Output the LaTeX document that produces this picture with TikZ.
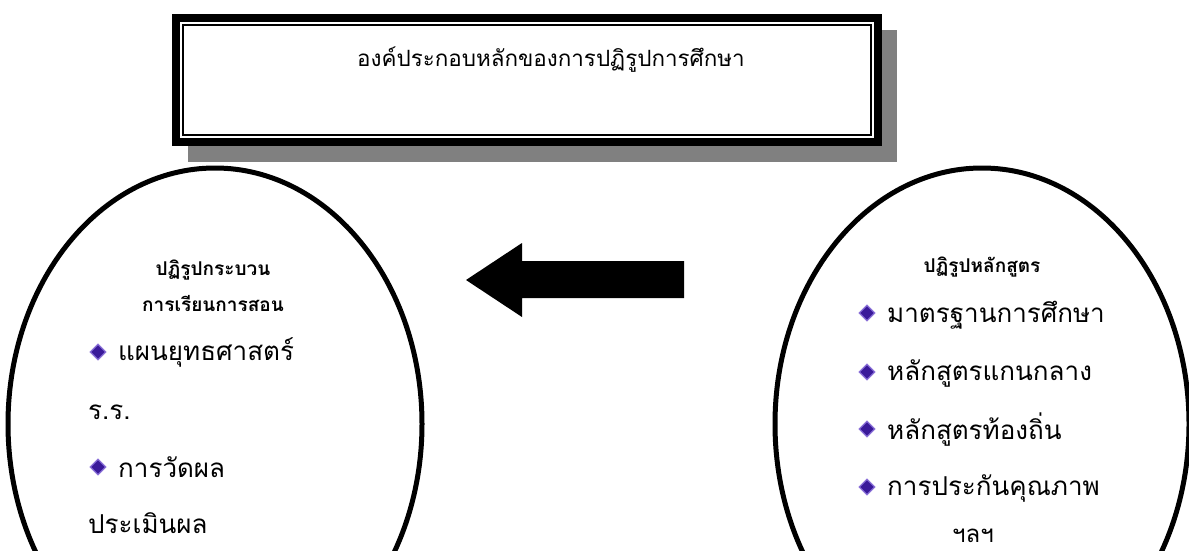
\documentclass[tikz,border=0pt]{standalone}
\usepackage{fontspec}
\newfontfamily\thai[Script=Thai]{Loma}
\usetikzlibrary{shapes.geometric}
\definecolor{bulletfill}{HTML}{3A1A9A}
\definecolor{bulletedge}{HTML}{8A70D8}
\definecolor{shadowgray}{HTML}{808080}
\tikzset{
  oval/.style={ellipse, draw=black, line width=5pt, minimum width=414pt, minimum height=512pt, inner sep=0pt},
  bigtxt/.style={font=\thai\fontsize{26}{26}\selectfont, anchor=west, inner sep=0pt},
  headtxt/.style={font=\thai\bfseries\fontsize{19}{19}\selectfont, inner sep=0pt},
  bul/.style={diamond, fill=bulletfill, draw=bulletedge, line width=1.2pt, minimum width=16pt, minimum height=16pt, inner sep=0pt},
}
\begin{document}
\begin{tikzpicture}[x=1pt,y=-1pt]
\useasboundingbox (0,0) rectangle (1189,551);
\clip (0,0) rectangle (1189,551);
% title box
\fill[shadowgray] (188,30) rectangle (897,162);
\node[draw=none, fill=white, minimum width=710pt, minimum height=132pt, inner sep=0pt] (title) at (527,80) {};
\draw[line width=8pt] ([xshift=4pt,yshift=-4pt]title.north west) rectangle ([xshift=-4pt,yshift=4pt]title.south east);
\draw[line width=2.5pt] ([xshift=11.25pt,yshift=-11.25pt]title.north west) rectangle ([xshift=-11.25pt,yshift=11.25pt]title.south east);
\node[font=\thai\fontsize{22.4}{22.4}\selectfont, inner sep=0pt] (ttext) at (551,60) {องค์ประกอบหลักของการปฏิรูปการศึกษา};
% ellipses
\node[oval] (left) at (215,424) {};
\node[oval] (right) at (982,424) {};
% arrow
\fill (466,280) -- (522,243) -- (522,261) -- (684,261) -- (684,298) -- (522,298) -- (522,317) -- cycle;
% left texts
\node[headtxt] (lh1) at (213,270) {ปฏิรูปกระบวน};
\node[headtxt] (lh2) at (213,303) {การเรียนการสอน};
\node[bul] (lb1) at (98,352) {};
\node[bigtxt] (l1) at (118,352) {แผนยุทธศาสตร์};
\node[bigtxt] (l2) at (88,412) {ร.ร.};
\node[bul] (lb2) at (98,467) {};
\node[bigtxt] (l3) at (118,467) {การวัดผล};
\node[bigtxt] (l4) at (88,523) {ประเมินผล};
% right texts
\node[headtxt] (rh1) at (982,267) {ปฏิรูปหลักสูตร};
\node[bul] (rb1) at (867,313) {};
\node[bigtxt] (r1) at (887,315) {มาตรฐานการศึกษา};
\node[bul] (rb2) at (867,372) {};
\node[bigtxt] (r2) at (887,373) {หลักสูตรแกนกลาง};
\node[bul] (rb3) at (867,429) {};
\node[bigtxt] (r3) at (887,430) {หลักสูตรท้องถิ่น};
\node[bul] (rb4) at (867,487) {};
\node[bigtxt] (r4) at (887,488) {การประกันคุณภาพ};
\node[font=\thai\fontsize{24}{24}\selectfont, inner sep=0pt] (r5) at (973,536) {ฯลฯ};
\end{tikzpicture}
\end{document}
